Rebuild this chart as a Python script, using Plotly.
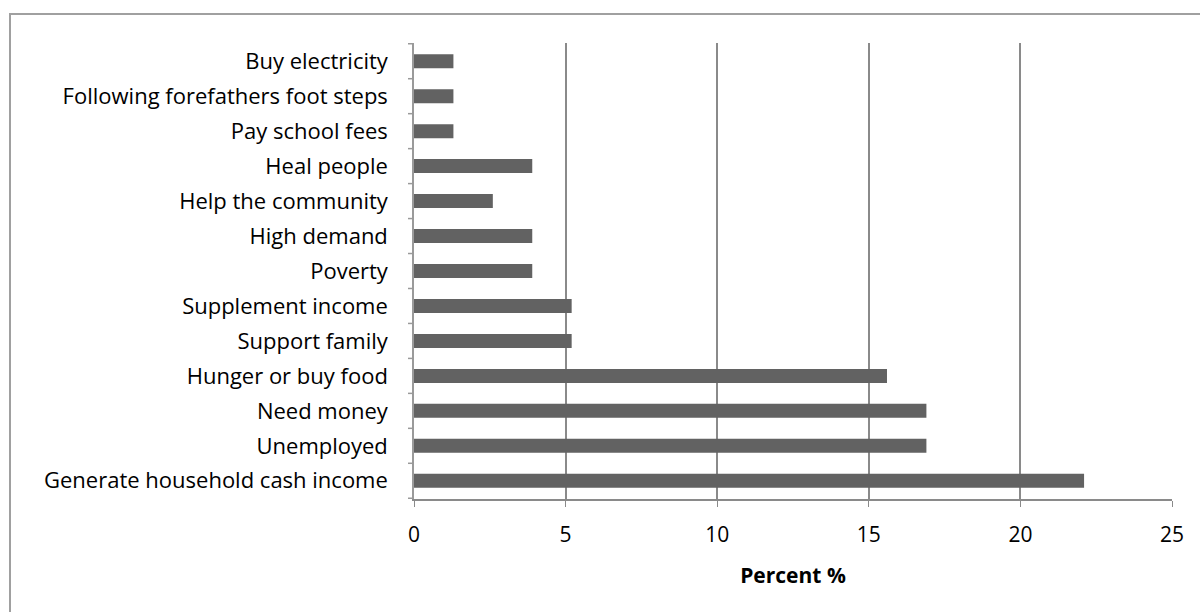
import plotly.graph_objects as go

categories = [
    "Generate household cash income",
    "Unemployed",
    "Need money",
    "Hunger or buy food",
    "Support family",
    "Supplement income",
    "Poverty",
    "High demand",
    "Help the community",
    "Heal people",
    "Pay school fees",
    "Following forefathers foot steps",
    "Buy electricity",
]
percent = [22.1, 16.9, 16.9, 15.6, 5.2, 5.2, 3.9, 3.9, 2.6, 3.9, 1.3, 1.3, 1.3]
x_ticks = [0, 5, 10, 15, 20, 25]

fig = go.Figure(
    go.Bar(
        y=categories,
        x=percent,
        orientation="h",
        marker=dict(color="#626262", line=dict(width=0)),
        width=0.4,
    )
)

font_family = "Open Sans, Liberation Sans, sans-serif"

fig.update_layout(
    width=1200,
    height=612,
    margin=dict(l=414, r=28, t=43, b=113),
    paper_bgcolor="white",
    plot_bgcolor="white",
    showlegend=False,
    font=dict(family=font_family, size=22, color="black"),
    xaxis=dict(
        range=[0, 25],
        tickvals=x_ticks,
        ticktext=[str(v) for v in x_ticks],
        showgrid=True,
        gridcolor="#8a8a8a",
        gridwidth=1.5,
        zeroline=False,
        showline=True,
        linecolor="#8a8a8a",
        linewidth=1.5,
        ticks="outside",
        ticklen=6,
        tickcolor="#8a8a8a",
        tickfont=dict(size=21),
        ticklabelstandoff=10,
        title=dict(text="<b>Percent %</b>", font=dict(size=21), standoff=21),
    ),
    yaxis=dict(
        categoryorder="array",
        categoryarray=categories,
        showgrid=False,
        zeroline=False,
        showline=True,
        linecolor="#9a9a9a",
        linewidth=1.5,
        ticks="",
        tickfont=dict(size=22),
        ticklabelstandoff=20,
    ),
    shapes=[
        dict(
            type="rect",
            xref="paper",
            yref="paper",
            x0=-404 / 758,
            x1=1.2,
            y0=-0.5,
            y1=(499 - 14) / 456,
            line=dict(color="#a0a0a0", width=2),
            fillcolor="rgba(0,0,0,0)",
            layer="below",
        )
    ],
)

# small tick marks at category boundaries on y axis
n = len(categories)
for i in range(n + 1):
    fig.add_shape(
        type="line",
        xref="paper",
        yref="y",
        x0=-6 / 758,
        x1=0,
        y0=i - 0.5,
        y1=i - 0.5,
        line=dict(color="#9a9a9a", width=1.5),
    )

fig.write_html("out.html")
